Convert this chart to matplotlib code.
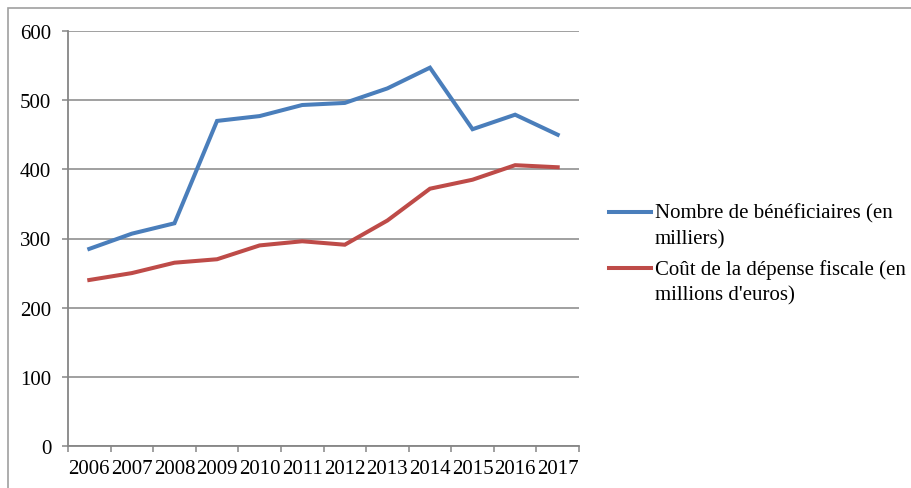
import matplotlib
matplotlib.use("Agg")
import matplotlib.pyplot as plt
from matplotlib.lines import Line2D
from matplotlib.patches import Rectangle
import numpy as np

years = ["2006", "2007", "2008", "2009", "2010", "2011",
         "2012", "2013", "2014", "2015", "2016", "2017"]
beneficiaires = [285, 307, 322, 470, 477, 493, 496, 517, 547, 458, 479, 450]
cout_fiscal = [240, 250, 265, 270, 290, 296, 291, 326, 372, 385, 406, 403]

label_benef = "Nombre de bénéficiaires (en\nmilliers)"
label_cout = "Coût de la dépense fiscale (en\nmillions d'euros)"

blue = "#4A7EBB"
red = "#BE4B48"
grey = "#868686"

plt.rcParams["font.family"] = ["Liberation Serif", "DejaVu Serif"]
plt.rcParams["font.size"] = 15

W, H = 911, 489
fig = plt.figure(figsize=(W / 100, H / 100), dpi=100)
ax = fig.add_axes([68 / W, 1 - 447 / H, (579 - 68) / W, (447 - 32) / H])

x = np.arange(len(years))
ax.plot(x, beneficiaires, color=blue, lw=2.9, solid_joinstyle="miter", zorder=3)
ax.plot(x, cout_fiscal, color=red, lw=2.9, solid_joinstyle="miter", zorder=3)

ax.set_xlim(-0.5, len(years) - 0.5)
ax.set_ylim(0, 600)
ax.set_yticks(np.arange(0, 601, 100))
ax.yaxis.grid(True, color=grey, lw=1.1)
ax.set_axisbelow(True)

# tick marks sit between categories, labels sit under each category
ax.set_xticks(np.arange(-0.5, len(years)), labels=[])
ax.set_xticks(x, labels=years, minor=True)
ax.tick_params(axis="x", which="major", length=4, width=1.1, color=grey, direction="out")
ax.tick_params(axis="x", which="minor", length=0, pad=9)
ax.tick_params(axis="y", length=4, width=1.1, color=grey, pad=8)

for side in ("top", "right"):
    ax.spines[side].set_visible(False)
for side in ("left", "bottom"):
    ax.spines[side].set_color(grey)
    ax.spines[side].set_linewidth(1.3)

# legend on the right, handle level with the first text line
# (va="baseline" anchors the last line of a two-line label)
entries = [(blue, label_benef, 212.5), (red, label_cout, 269)]
for color, text, ypix in entries:
    fig.add_artist(Line2D([609 / W, 651 / W], [1 - ypix / H, 1 - ypix / H],
                          color=color, lw=2.9, transform=fig.transFigure))
    fig.text(655 / W, 1 - (ypix + 6.5 + 25) / H, text, ha="left", va="baseline",
             linespacing=1.45)

# outer chart frame
fig.add_artist(Rectangle((8 / W, -0.1), 1.2, 1 - 9 / H + 0.1,
                         transform=fig.transFigure, fill=False,
                         edgecolor="#A0A0A0", lw=1.2))

fig.savefig("out.png", dpi=100)
